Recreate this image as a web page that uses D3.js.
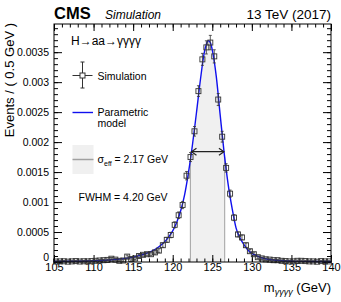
<!DOCTYPE html>
<html>
<head>
<meta charset="utf-8">
<script src="https://cdn.jsdelivr.net/npm/d3@7"></script>
<style>
  body { margin: 0; background: #fff; }
  text { font-family: "Liberation Sans", Arial, Helvetica, sans-serif; }
</style>
</head>
<body>
<div id="chart"></div>
<script>
// simulated m_gggg distribution, 0.5 GeV bins from 105 to 140
var binCenters = d3.range(105.25, 140, 0.5);
var simValues = [
  0.000008, 0.00001, 0.000012, 0.000006, 0.00001, 0.000015, 0.000008, 0.000012, 0.00001, 0.000015,
  0.00002, 0.000025, 0.00003, 0.000035, 0.000055, 0.00004, 0.00002, 0.000025, 0.00009, 0.00005,
  0.00006, 0.0001, 0.00012, 0.00013, 0.00013, 0.00016, 0.00019, 0.00028, 0.00037, 0.00045,
  0.00062, 0.00078, 0.00095, 0.00144, 0.00175, 0.00218, 0.00285, 0.00338, 0.00358, 0.00366,
  0.00343, 0.00271, 0.00209, 0.00157, 0.00114, 0.00074, 0.00046, 0.00041, 0.00028, 0.00018,
  0.00013, 0.00008, 0.00006, 0.000045, 0.00004, 0.00003, 0.00003, 0.00002, 0.000015, 0.00001,
  0.00001, 0.00002, 0.00002, 0.000015, 0.00001, 0.00001, 0.000005, 0.000015, 0.00001, 0.00001
];
var simErrors = [
  0.000012, 0.000012, 0.000012, 0.000012, 0.000012, 0.000012, 0.000012, 0.000012, 0.000012, 0.000012,
  0.000015, 0.000015, 0.000015, 0.000015, 0.00002, 0.00002, 0.000015, 0.000015, 0.000025, 0.00002,
  0.00002, 0.000025, 0.000025, 0.000025, 0.000025, 0.00003, 0.00003, 0.000035, 0.00004, 0.000045,
  0.00005, 0.000055, 0.00006, 0.00007, 0.000075, 0.00008, 0.00009, 0.0001, 0.00011, 0.00012,
  0.00011, 0.0001, 0.00009, 0.00007, 0.00006, 0.00005, 0.00004, 0.00004, 0.000035, 0.00003,
  0.000025, 0.00002, 0.00002, 0.00002, 0.000015, 0.000015, 0.000015, 0.000015, 0.000012, 0.000012,
  0.000012, 0.000012, 0.000012, 0.000012, 0.000012, 0.000012, 0.000012, 0.000012, 0.000012, 0.000012
];

// parametric model
var modelX = [105, 107, 109, 110, 111, 112, 113, 114, 115, 116, 117, 118, 118.5, 119, 119.5, 120, 120.5,
  121, 121.5, 122, 122.5, 123, 123.5, 124, 124.25, 124.5, 124.75, 125, 125.5, 126, 126.5, 127, 127.5,
  128, 128.5, 129, 129.5, 130, 130.5, 131, 132, 133, 134, 135, 137, 140];
var modelY = [0.00001, 0.000012, 0.000016, 0.00002, 0.000026, 0.000034, 0.000045, 0.00006, 0.000082,
  0.000115, 0.00016, 0.00023, 0.00028, 0.00034, 0.00042, 0.00052, 0.00066, 0.00085, 0.00112, 0.0015,
  0.00196, 0.00249, 0.00304, 0.0035, 0.00363, 0.00369, 0.00366, 0.00354, 0.0031, 0.00245, 0.00182,
  0.0013, 0.0009, 0.00057, 0.0004, 0.00029, 0.0002, 0.000145, 0.00011, 0.00008, 0.000045, 0.00003,
  0.00002, 0.000015, 0.00001, 0.000008];

// effective sigma window and FWHM
var sigmaEffRange = [122.23, 126.57];
var fwhmRange = [122.37, 126.47];
var halfMax = 0.00184;

var xTickValues = [105, 110, 115, 120, 125, 130, 135, 140];
var yTickValues = [0, 0.0005, 0.001, 0.0015, 0.002, 0.0025, 0.003, 0.0035];

var margin = {top: 24, right: 10, bottom: 40, left: 54},
    width = 341 - margin.left - margin.right,
    height = 302 - margin.top - margin.bottom;

var svg = d3.select("#chart")
  .append("svg")
    .attr("width", 341)
    .attr("height", 302)
  .append("g")
    .attr("transform", "translate(" + margin.left + "," + margin.top + ")");

var x = d3.scaleLinear().domain([105, 140]).range([0, width]);
var y = d3.scaleLinear().domain([0, 0.00397]).range([height, 0]);

var model = modelX.map(function(d, i) { return [d, modelY[i]]; });

// interpolate the model at a given mass (for the window edges)
function modelAt(m) {
  var i = d3.bisectRight(modelX, m);
  var t = (m - modelX[i-1]) / (modelX[i] - modelX[i-1]);
  return modelY[i-1] + t * (modelY[i] - modelY[i-1]);
}

// shaded sigma_eff area
svg.append("clipPath").attr("id", "effclip")
  .append("rect")
    .attr("x", x(sigmaEffRange[0]))
    .attr("y", 0)
    .attr("width", x(sigmaEffRange[1]) - x(sigmaEffRange[0]))
    .attr("height", height);

svg.append("path")
  .datum(model)
  .attr("clip-path", "url(#effclip)")
  .attr("fill", "#f0f0f0")
  .attr("d", d3.area()
    .curve(d3.curveMonotoneX)
    .x(function(d) { return x(d[0]); })
    .y0(height)
    .y1(function(d) { return y(d[1]); }));

sigmaEffRange.forEach(function(m) {
  svg.append("line")
    .attr("x1", x(m)).attr("x2", x(m))
    .attr("y1", height).attr("y2", y(modelAt(m)))
    .attr("stroke", "#a0a0a0").attr("stroke-width", 1);
});

// axes, ticks pointing inward
function fmtY(d) { return d === 0 ? "0" : String(+d.toFixed(4)); }
var xMinor = d3.range(105, 140.01, 1);
var yMinor = d3.range(0, 0.00397, 0.0001);

var gx = svg.append("g").attr("transform", "translate(0," + height + ")")
  .call(d3.axisBottom(x).tickValues(xTickValues).tickSize(-7).tickPadding(1.5).tickFormat(d3.format("d")));
svg.append("g").attr("transform", "translate(0," + height + ")")
  .call(d3.axisBottom(x).tickValues(xMinor).tickSize(-3.5).tickFormat(""));
svg.append("g")
  .call(d3.axisTop(x).tickValues(xTickValues).tickSize(-7).tickFormat(""));
svg.append("g")
  .call(d3.axisTop(x).tickValues(xMinor).tickSize(-3.5).tickFormat(""));

var gy = svg.append("g")
  .call(d3.axisLeft(y).tickValues(yTickValues).tickSize(-8).tickPadding(5).tickFormat(fmtY));
svg.append("g")
  .call(d3.axisLeft(y).tickValues(yMinor).tickSize(-4).tickFormat(""));
svg.append("g").attr("transform", "translate(" + width + ",0)")
  .call(d3.axisRight(y).tickValues(yTickValues).tickSize(-8).tickFormat(""));
svg.append("g").attr("transform", "translate(" + width + ",0)")
  .call(d3.axisRight(y).tickValues(yMinor).tickSize(-4).tickFormat(""));

svg.selectAll(".domain").remove();
svg.selectAll(".tick line").attr("stroke", "#000");
gx.selectAll("text").attr("fill", "#000").style("font-size", "11px");
gy.selectAll("text").attr("fill", "#000").style("font-size", "10.5px");
// the zero label sits just above the x labels, as in ROOT output
gy.selectAll(".tick").filter(function(d) { return d === 0; }).select("text").attr("dy", "-0.1em");

// model curve
svg.append("path")
  .datum(model)
  .attr("fill", "none")
  .attr("stroke", "#1010ee")
  .attr("stroke-width", 1.4)
  .attr("d", d3.line()
    .curve(d3.curveMonotoneX)
    .x(function(d) { return x(d[0]); })
    .y(function(d) { return y(d[1]); }));

// FWHM arrow
var ay = y(halfMax), ax0 = x(fwhmRange[0]), ax1 = x(fwhmRange[1]);
var arrow = svg.append("g").attr("stroke", "#222").attr("stroke-width", 1.2).attr("fill", "none");
arrow.append("line").attr("x1", ax0).attr("x2", ax1).attr("y1", ay).attr("y2", ay);
arrow.append("path").attr("d", "M" + (ax0 + 5) + "," + (ay - 3.5) + "L" + ax0 + "," + ay + "L" + (ax0 + 5) + "," + (ay + 3.5));
arrow.append("path").attr("d", "M" + (ax1 - 5) + "," + (ay - 3.5) + "L" + ax1 + "," + ay + "L" + (ax1 - 5) + "," + (ay + 3.5));

// simulation points with error bars
var pts = svg.append("g").attr("stroke", "#333").attr("fill", "none");
binCenters.forEach(function(m, i) {
  var cx = x(m), cy = y(simValues[i]);
  var top = y(simValues[i] + simErrors[i]), bot = y(Math.max(0, simValues[i] - simErrors[i]));
  pts.append("line").attr("x1", cx).attr("x2", cx).attr("y1", top).attr("y2", bot).attr("stroke-width", 0.8);
  pts.append("line").attr("x1", cx - 1.5).attr("x2", cx + 1.5).attr("y1", top).attr("y2", top).attr("stroke-width", 0.8);
  pts.append("line").attr("x1", cx - 1.5).attr("x2", cx + 1.5).attr("y1", bot).attr("y2", bot).attr("stroke-width", 0.8);
  pts.append("rect").attr("x", cx - 2.5).attr("y", cy - 2.5).attr("width", 5).attr("height", 5)
    .attr("stroke-width", 0.9);
});

// frame
svg.append("rect").attr("width", width).attr("height", height)
  .attr("fill", "none").attr("stroke", "#000").attr("stroke-width", 1);

// legend (absolute page coordinates)
var page = d3.select("#chart svg");
var lg = page.append("g").style("font-size", "10.5px").attr("fill", "#000");

lg.append("text").attr("x", 71).attr("y", 45).style("font-size", "12px").text("H\u2192aa\u2192\u03b3\u03b3\u03b3\u03b3");

lg.append("line").attr("x1", 82.5).attr("x2", 82.5).attr("y1", 62).attr("y2", 88).attr("stroke", "#333");
lg.append("line").attr("x1", 80.5).attr("x2", 84.5).attr("y1", 62).attr("y2", 62).attr("stroke", "#333");
lg.append("line").attr("x1", 80.5).attr("x2", 84.5).attr("y1", 88).attr("y2", 88).attr("stroke", "#333");
lg.append("line").attr("x1", 72.5).attr("x2", 92.5).attr("y1", 75.5).attr("y2", 75.5).attr("stroke", "#333");
lg.append("rect").attr("x", 80).attr("y", 73).attr("width", 5).attr("height", 5)
  .attr("fill", "#fff").attr("stroke", "#333");
lg.append("text").attr("x", 97.5).attr("y", 79.5).text("Simulation");

lg.append("line").attr("x1", 72.5).attr("x2", 93).attr("y1", 112.5).attr("y2", 112.5)
  .attr("stroke", "#1010ee").attr("stroke-width", 1.4);
lg.append("text").attr("x", 97.5).attr("y", 115.5).text("Parametric");
lg.append("text").attr("x", 97.5).attr("y", 126.5).text("model");

lg.append("rect").attr("x", 72.5).attr("y", 145).attr("width", 21).attr("height", 29).attr("fill", "#f0f0f0");
lg.append("line").attr("x1", 72.5).attr("x2", 93.5).attr("y1", 159.5).attr("y2", 159.5)
  .attr("stroke", "#a0a0a0").attr("stroke-width", 1.5);
var se = lg.append("text").attr("x", 97.5).attr("y", 163);
se.append("tspan").text("\u03c3");
se.append("tspan").attr("dy", 2.5).style("font-size", "7px").text("eff");
se.append("tspan").attr("dy", -2.5).text(" = 2.17 GeV");

lg.append("text").attr("x", 78.5).attr("y", 201).text("FWHM = 4.20 GeV");

// header
page.append("text").attr("x", 54).attr("y", 18.5)
  .style("font-size", "16.5px").style("font-weight", "bold").text("CMS");
page.append("text").attr("x", 105).attr("y", 18.5)
  .style("font-size", "12px").style("font-style", "italic").text("Simulation");
page.append("text").attr("x", 331).attr("y", 18.5).attr("text-anchor", "end")
  .style("font-size", "13.5px").text("13 TeV (2017)");

// axis titles
page.append("text")
  .attr("transform", "translate(13.5,23) rotate(-90)")
  .attr("text-anchor", "end")
  .style("font-size", "13px")
  .text("Events / ( 0.5 GeV )");

var xt = page.append("text").attr("x", 331).attr("y", 292).attr("text-anchor", "end").style("font-size", "13px");
xt.append("tspan").text("m");
xt.append("tspan").attr("dy", 3).style("font-size", "9px").style("font-style", "italic").text("\u03b3\u03b3\u03b3\u03b3");
xt.append("tspan").attr("dy", -3).text(" (GeV)");
</script>
</body>
</html>
